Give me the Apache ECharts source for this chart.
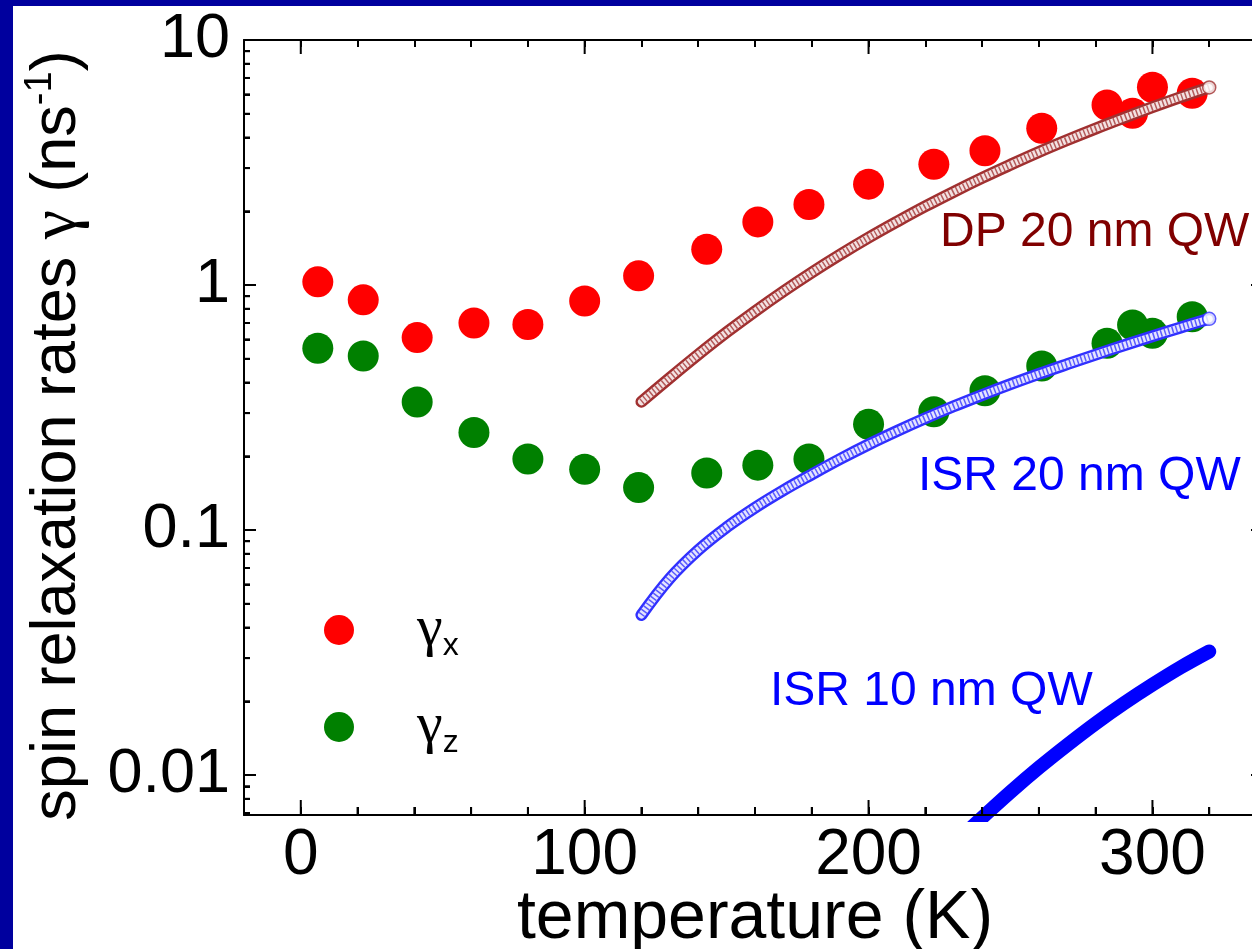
<!DOCTYPE html>
<html>
<head>
<meta charset="utf-8">
<script src="https://cdn.jsdelivr.net/npm/echarts@6/dist/echarts.min.js"></script>
<style>
  html, body { margin: 0; padding: 0; width: 1252px; height: 949px; background: #00009e; overflow: hidden; }
  #chart { position: absolute; left: 13px; top: 6px; width: 1239px; height: 943px; background: #ffffff; }
</style>
</head>
<body>
<div id="chart"></div>
<script>
// ---------------- data ----------------
const temperatures = [6, 22, 41, 61, 80, 100, 119, 143, 161, 179, 200, 223, 241, 261, 284, 293, 300, 314];
const gammaX = [1.03, 0.87, 0.61, 0.70, 0.69, 0.86, 1.09, 1.40, 1.81, 2.13, 2.58, 3.11, 3.53, 4.36, 5.43, 5.02, 6.41, 6.06];
const gammaZ = [0.552, 0.513, 0.333, 0.250, 0.195, 0.177, 0.149, 0.171, 0.184, 0.195, 0.270, 0.304, 0.370, 0.467, 0.578, 0.687, 0.635, 0.742];

const curveT = [120, 130, 140, 150, 160, 170, 180, 190, 200, 210, 220, 230, 240, 250, 260, 270, 280, 290, 300, 310, 320];
const dp20 = [0.334, 0.418, 0.520, 0.641, 0.781, 0.942, 1.125, 1.331, 1.561, 1.814, 2.096, 2.402, 2.737, 3.097, 3.490, 3.906, 4.350, 4.820, 5.320, 5.850, 6.400];
const isr20 = [0.0450, 0.0635, 0.0828, 0.1026, 0.1233, 0.1452, 0.1687, 0.1950, 0.2234, 0.2535, 0.2858, 0.3199, 0.3556, 0.3936, 0.4335, 0.4753, 0.5200, 0.5675, 0.6180, 0.6714, 0.7278];

const isr10T = [236, 240, 250, 260, 270, 280, 290, 300, 310, 320];
const isr10 = [0.00607, 0.00670, 0.00853, 0.01072, 0.01327, 0.01626, 0.01963, 0.02338, 0.02754, 0.03194];

// tick values
const xMajorTicks = [0, 100, 200, 300];
const xMinorTicks = [20, 40, 60, 80, 120, 140, 160, 180, 220, 240, 260, 280, 320];
const yMinorTicks = [0.008, 0.009, 0.02, 0.03, 0.04, 0.05, 0.06, 0.07, 0.08, 0.09,
                     0.2, 0.3, 0.4, 0.5, 0.6, 0.7, 0.8, 0.9, 2, 3, 4, 5, 6, 7, 8, 9];
const curveLabels = ['DP 20 nm QW', 'ISR 20 nm QW', 'ISR 10 nm QW'];

// ---------------- layout / style ----------------
const X_MIN = -20, X_MAX = 340;
const Y_MIN = 0.00687, Y_MAX = 10;
const FONT = "'Liberation Sans', Arial, sans-serif";
const GREEK = "'Liberation Serif', 'DejaVu Serif', serif";
const zip = (a, b) => a.map((v, i) => [v, b[i]]);

const chart = echarts.init(document.getElementById('chart'));

const axisLineStyle = { color: '#000', width: 2 };
const tickStyle = { color: '#000', width: 2 };
const baseX = { type: 'value', min: X_MIN, max: X_MAX, splitLine: { show: false }, gridIndex: 0, z: 10 };

function band(name, xs, ys, edge, core, hatch) {
  const d = zip(xs, ys);
  const common = { type: 'line', smooth: 0.4, showSymbol: false, symbol: 'none', data: d, silent: true, xAxisIndex: 0, yAxisIndex: 0 };
  return [
    Object.assign({}, common, { name: name, lineStyle: { color: edge, width: 12, cap: 'round' }, z: 4 }),
    Object.assign({}, common, { name: name + ' core', lineStyle: { color: core, width: 7, cap: 'round' }, z: 5 }),
    Object.assign({}, common, { name: name + ' rings', lineStyle: { color: hatch, width: 7, type: [1.5, 2.5], cap: 'butt' }, z: 5 }),
    { name: name + ' end', type: 'scatter', data: [d[d.length - 1]], symbol: 'circle', symbolSize: 13, silent: true,
      xAxisIndex: 0, yAxisIndex: 0, itemStyle: { color: '#fff', borderColor: edge, borderWidth: 1.5 }, z: 6 }
  ];
}

// inward tick marks placed through the axes' own scales
function tickMarks(name, data, size, offset) {
  return { name: name, type: 'scatter', xAxisIndex: 0, yAxisIndex: 0, data: data, clip: false,
    symbol: 'rect', symbolSize: size, symbolOffset: offset, itemStyle: { color: '#000', opacity: 1 }, z: 12 };
}

const option = {
  animation: false,
  grid: { left: 231, top: 34, right: -14, bottom: 134, containLabel: false, outerBoundsMode: 'none' },
  legend: {
    data: ['gx', 'gz'],
    orient: 'vertical',
    left: 306, top: 590,
    itemWidth: 30, itemHeight: 30, itemGap: 36,
    icon: 'circle',
    selectedMode: false,
    formatter: n => n === 'gx' ? '{g|γ}{s|x}' : '{g|γ}{s|z}',
    textStyle: {
      rich: {
        g: { fontSize: 58, fontFamily: GREEK, color: '#000', padding: [0, 0, 0, 58], lineHeight: 64 },
        s: { fontSize: 32, fontFamily: FONT, color: '#000', verticalAlign: 'bottom', lineHeight: 40 }
      }
    }
  },
  xAxis: [
    Object.assign({}, baseX, {
      position: 'bottom', interval: 20,
      name: 'temperature (K)', nameLocation: 'middle', nameGap: 70, nameMoveOverlap: false,
      nameTextStyle: { fontSize: 68, fontFamily: FONT, color: '#000' },
      axisLine: { show: true, onZero: false, lineStyle: axisLineStyle },
      axisTick: { show: true, inside: true, length: 8, lineStyle: tickStyle },
      axisLabel: { show: true, margin: 9, fontSize: 64, fontFamily: FONT, color: '#000',
        formatter: v => (v % 100 === 0 ? String(v) : '') }
    }),
    Object.assign({}, baseX, {
      position: 'top', interval: 20,
      axisLine: { show: true, onZero: false, lineStyle: axisLineStyle },
      axisTick: { show: true, inside: true, length: 7, lineStyle: tickStyle },
      axisLabel: { show: false }
    })
  ],
  yAxis: [
    {
      type: 'log', min: Y_MIN, max: Y_MAX, position: 'left', splitLine: { show: false }, z: 10,
      name: '{a|spin relaxation rates }{g|γ}{a| (ns}{b|-1}{a|)}',
      nameLocation: 'middle', nameGap: 150, nameMoveOverlap: false,
      nameTextStyle: {
        padding: [0, 16, 0, 0],
        rich: {
          a: { fontSize: 63, fontFamily: FONT, color: '#000', lineHeight: 72 },
          g: { fontSize: 66, fontFamily: GREEK, color: '#000', lineHeight: 72 },
          b: { fontSize: 38, fontFamily: FONT, color: '#000', verticalAlign: 'top', lineHeight: 72 }
        }
      },
      axisLine: { show: true, onZero: false, lineStyle: axisLineStyle },
      axisTick: { show: true, inside: true, length: 12, lineStyle: tickStyle },
      minorTick: { show: true, splitNumber: 9, length: 6, lineStyle: tickStyle },
      axisLabel: { show: true, margin: 14, fontSize: 63, fontFamily: FONT, color: '#000', showMinLabel: false, showMaxLabel: true,
        formatter: v => String(+(+v).toPrecision(3)) }
    },
    {
      type: 'log', min: Y_MIN, max: Y_MAX, position: 'right', splitLine: { show: false }, z: 10,
      axisLine: { show: true, onZero: false, lineStyle: axisLineStyle },
      axisTick: { show: true, inside: true, length: 15, lineStyle: tickStyle },
      axisLabel: { show: false }
    }
  ],
  series: [
    { name: 'gx', type: 'scatter', xAxisIndex: 0, yAxisIndex: 0, data: zip(temperatures, gammaX),
      symbol: 'circle', symbolSize: 31, itemStyle: { color: '#ff0000', opacity: 1 }, z: 3 },
    { name: 'gz', type: 'scatter', xAxisIndex: 0, yAxisIndex: 0, data: zip(temperatures, gammaZ),
      symbol: 'circle', symbolSize: 31, itemStyle: { color: '#008000', opacity: 1 }, z: 3 }
  ]
  .concat(band(curveLabels[0], curveT, dp20, '#a03030', '#f3e2e2', '#b45a5a'))
  .concat(band(curveLabels[1], curveT, isr20, '#3030ff', '#e4e4ff', '#5a5aff'))
  .concat([
    { name: curveLabels[2], type: 'line', smooth: 0.4, showSymbol: false, symbol: 'none',
      data: zip(isr10T, isr10), clip: true, xAxisIndex: 0, yAxisIndex: 0,
      lineStyle: { color: '#0000ff', width: 14, cap: 'round' }, z: 4, silent: true },
    tickMarks('bottom minor ticks', xMinorTicks.map(v => [v, Y_MIN]), [2, 8], [0, -4]),
    tickMarks('bottom major ticks', xMajorTicks.map(v => [v, Y_MIN]), [2, 15], [0, -7.5]),
    tickMarks('top major ticks', xMajorTicks.map(v => [v, Y_MAX]), [2, 14], [0, 7]),
    tickMarks('left minor ticks', yMinorTicks.map(v => [X_MIN, v]), [6, 2], [3, 0])
  ]),
  graphic: [
    { type: 'text', left: 927, top: 203, z: 10, silent: true,
      style: { text: curveLabels[0], fontSize: 48, fontFamily: FONT, fill: '#800000' } },
    { type: 'text', left: 905, top: 447, z: 10, silent: true,
      style: { text: curveLabels[1], fontSize: 48, fontFamily: FONT, fill: '#0000ff' } },
    { type: 'text', left: 757, top: 662, z: 3, silent: true,
      style: { text: curveLabels[2], fontSize: 48, fontFamily: FONT, fill: '#0000ff' } }
  ]
};

chart.setOption(option);
</script>
</body>
</html>
